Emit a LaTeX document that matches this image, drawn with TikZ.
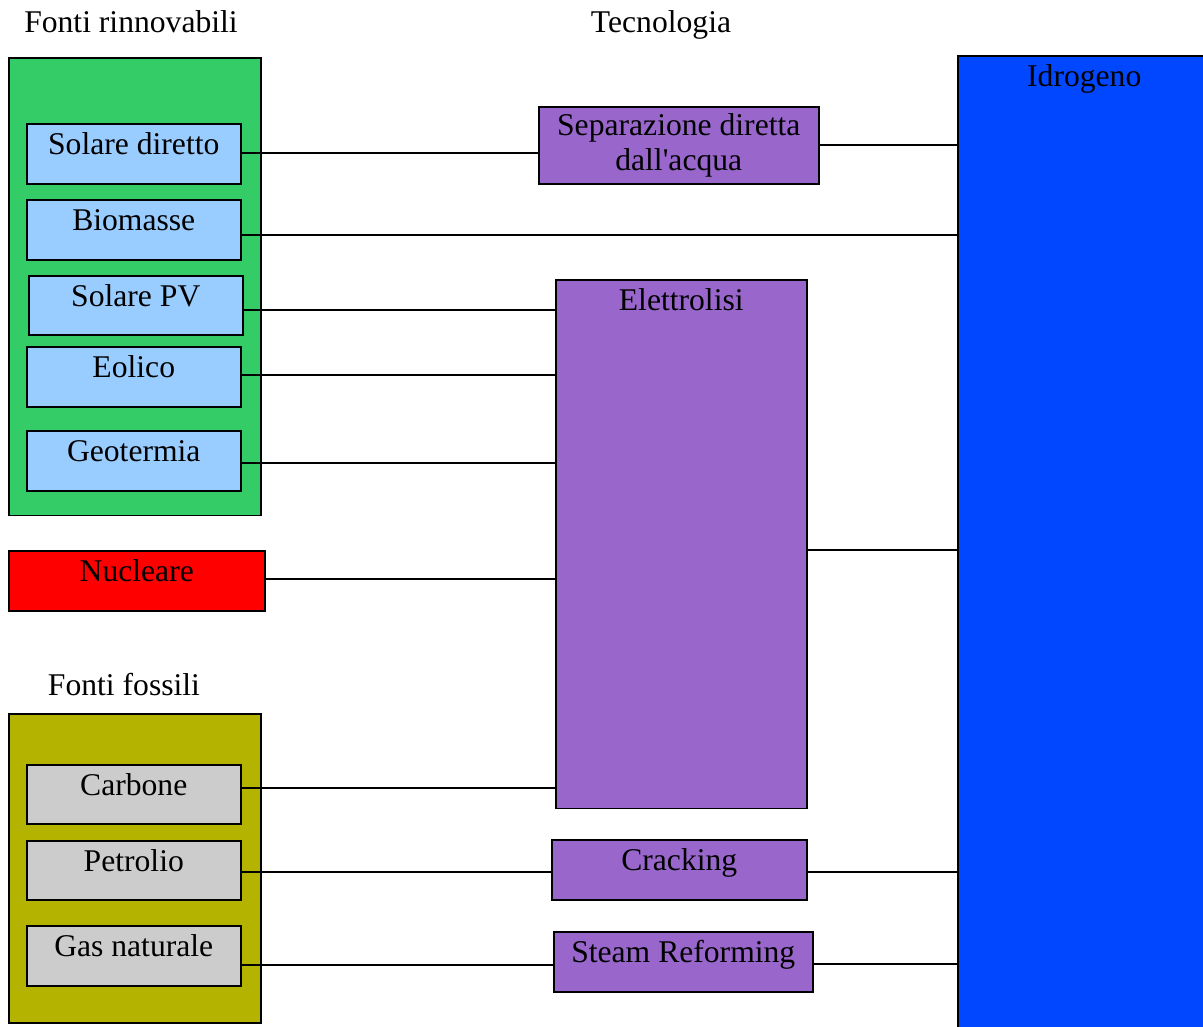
\documentclass[tikz,border=0pt]{standalone}
\usepackage{fontspec}
\setmainfont{Liberation Serif}
\usepackage{tikz}
\usetikzlibrary{positioning}

\definecolor{verde}{HTML}{33CC66}
\definecolor{azzurro}{HTML}{99CCFF}
\definecolor{rosso}{HTML}{FF0000}
\definecolor{oliva}{HTML}{B3B300}
\definecolor{grigio}{HTML}{CCCCCC}
\definecolor{viola}{HTML}{9966CC}
\definecolor{blu}{HTML}{0047FF}

\begin{document}
\begin{tikzpicture}[
            x = 0.02cm, y = -0.02cm, % one unit = one pixel of the sketch
            line width = 0.9pt, % line style
            font = \fontsize{18}{20}\selectfont
        ]

        \tikzstyle{gruppo}=[
            draw = black,
            inner sep = 0pt,
            anchor = north west
        ]
        \tikzstyle{box}=[
            draw = black,
            inner sep = 0pt,
            anchor = north west,
            text height = 0.62cm,
            text depth = 0.58cm
        ]

        \useasboundingbox (0,0) rectangle (1203,1027);

        % titles
        \node[anchor=base] (T1) at (131,33) {Fonti rinnovabili};
        \node[anchor=base] (T2) at (661,33) {Tecnologia};
        \node[anchor=base] (T3) at (124,695) {Fonti fossili};

        % sources
        \node[gruppo, fill=verde, minimum width=5.04cm, minimum height=9.16cm] (R) at (8,57) {};
        \node[box, fill=azzurro, minimum width=4.28cm] (SD) at (26,123) {Solare diretto};
        \node[box, fill=azzurro, minimum width=4.28cm] (BM) at (26,199) {Biomasse};
        \node[box, fill=azzurro, minimum width=4.28cm, text depth=0.56cm] (PV) at (28,275) {Solare PV};
        \node[box, fill=azzurro, minimum width=4.28cm] (EO) at (26,346) {Eolico};
        \node[box, fill=azzurro, minimum width=4.28cm] (GT) at (26,430) {Geotermia};

        \node[box, fill=rosso, minimum width=5.12cm] (NU) at (8,550) {Nucleare};

        \node[gruppo, fill=oliva, minimum width=5.04cm, minimum height=6.18cm] (F) at (8,713) {};
        \node[box, fill=grigio, minimum width=4.28cm, text depth=0.56cm] (CA) at (26,764) {Carbone};
        \node[box, fill=grigio, minimum width=4.28cm, text depth=0.56cm] (PE) at (26,840) {Petrolio};
        \node[box, fill=grigio, minimum width=4.28cm] (GN) at (26,925) {Gas naturale};

        % technologies
        \node[gruppo, fill=viola, align=center, minimum width=5.6cm, minimum height=1.54cm,
              font=\fontsize{18}{20}\selectfont] (SEP) at (538,106) {Separazione diretta\\dall\textquotesingle acqua};
        \node[box, fill=viola, minimum width=5.02cm, text depth=9.96cm] (EL) at (555,279) {Elettrolisi};
        \node[box, fill=viola, minimum width=5.1cm] (CR) at (551,839) {Cracking};
        \node[box, fill=viola, minimum width=5.18cm] (SR) at (553,931) {Steam Reforming};

        % hydrogen
        \node[box, fill=blu, minimum width=5.06cm, text depth=19.08cm] (H) at (957,55) {Idrogeno};

        \draw ([yshift=0.02cm]SD.east) -- ([yshift=0.02cm]SD.east -| SEP.west);
        \draw (SEP.east) -- (SEP.east -| H.west);
        \draw ([yshift=-0.1cm]BM.east) -- ([yshift=-0.1cm]BM.east -| H.west);
        \draw ([yshift=-0.09cm]PV.east) -- ([yshift=-0.09cm]PV.east -| EL.west);
        \draw ([yshift=0.04cm]EO.east) -- ([yshift=0.04cm]EO.east -| EL.west);
        \draw ([yshift=-0.04cm]GT.east) -- ([yshift=-0.04cm]GT.east -| EL.west);
        \draw ([yshift=0.04cm]NU.east) -- ([yshift=0.04cm]NU.east -| EL.west);
        \draw ([yshift=0.13cm]CA.east) -- ([yshift=0.13cm]CA.east -| EL.west);
        \draw ([yshift=-0.11cm]EL.east) -- ([yshift=-0.11cm]EL.east -| H.west);
        \draw ([yshift=-0.03cm]PE.east) -- ([yshift=-0.03cm]PE.east -| CR.west);
        \draw ([yshift=-0.04cm]CR.east) -- ([yshift=-0.04cm]CR.east -| H.west);
        \draw ([yshift=-0.18cm]GN.east) -- ([yshift=-0.18cm]GN.east -| SR.west);
        \draw ([yshift=-0.04cm]SR.east) -- ([yshift=-0.04cm]SR.east -| H.west);

    \end{tikzpicture}
\end{document}
